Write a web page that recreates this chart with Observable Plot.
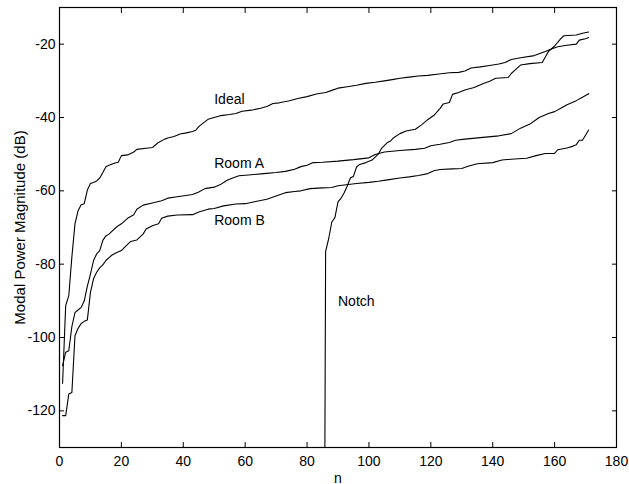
<!DOCTYPE html>
<html>
<head>
<meta charset="utf-8">
<script src="https://cdn.jsdelivr.net/npm/d3@7"></script>
<script src="https://cdn.jsdelivr.net/npm/@observablehq/plot@0.6"></script>
<style>
  html, body { margin: 0; padding: 0; background: #fff; }
  #chart svg { font-family: "Liberation Sans", Arial, Helvetica, sans-serif; }
</style>
</head>
<body>
<div id="chart"></div>
<script>
// ---- Data ----
const idealN  = [1,2,3,4,5,6,7,8,9,10,11,12,13,14,15,16,17,18,19,20,22,24,25,28,30,31,32,34,35,37,39,41,43,44,45,46,48,50,52,55,57,59,62,65,67,69,71,74,77,80,83,86,88,90,93,96,99,102,105,108,110,113,116,119,122,126,129,131,133,136,139,142,144,146,149,153,155,157,159,161,164,167,168,170,171];
const idealDb = [-112.5,-91.3,-88.6,-78,-69,-65.4,-63.8,-63.5,-59.8,-58,-57.7,-57.3,-56.5,-55,-53.4,-53,-52.7,-52.4,-52.2,-50.4,-50.2,-49.4,-48.7,-48.4,-48.2,-47.5,-46.8,-45.9,-45.6,-45.2,-44.5,-44.2,-43.8,-43.5,-42.5,-41.8,-40.5,-40,-39.5,-39.2,-38.9,-38.3,-38,-37.5,-37,-36.2,-36,-35.5,-34.8,-34.3,-33.6,-33.2,-32.6,-32,-31.6,-31.2,-30.7,-30.4,-30,-29.6,-29.3,-29,-28.7,-28.5,-28.2,-27.8,-27.7,-27.3,-26.5,-26.2,-25.8,-25.4,-25,-24.2,-23.7,-23.2,-22.6,-22,-21.3,-20.7,-20.3,-20,-18.9,-18.5,-18.2];

const roomAN  = [1,2,3,4,5,6,7,8,9,10,11,12,13,14,15,16,17,18,19,20,22,24,25,27,30,33,35,38,43,45,47,50,52,54,56,58,62,66,70,73,76,78,80,82,85,90,95,100,102,105,110,115,118,120,123,126,128,131,136,142,146,149,152,154,155,158,160,162,164,167,169,171];
const roomADb = [-107.7,-104,-103.6,-97,-93.2,-92.5,-91.8,-90,-86,-82.7,-79,-77.2,-76.3,-73.5,-72.3,-71.8,-71,-70.2,-69.5,-69,-67.5,-66.5,-65,-63.9,-63.3,-62.7,-62,-61.6,-61,-60.3,-59.4,-59,-58.3,-57.2,-56.5,-55.9,-55.6,-55.3,-55,-54.7,-54.1,-53.4,-53,-52.3,-52.2,-51.9,-51.5,-51,-50.1,-49.4,-49,-48.7,-48.4,-47.7,-47.3,-46.8,-46.2,-45.9,-45.5,-45,-44.4,-42.9,-41.8,-40.6,-40,-38.9,-38.4,-37.5,-36.5,-35.4,-34.5,-33.5];

const roomBN  = [1,2,3,4,5,6,7,8,9,10,11,12,13,14,15,16,17,18,20,21,23,25,27,28,30,32,33,35,38,43,45,48,50,53,57,60,63,67,70,73,76,78,81,85,88,90,92,96,100,103,106,110,113,116,119,121,123,127,130,132,135,140,143,147,151,154,157,160,161,164,166,167,168,169,171];
const roomBDb = [-121.3,-121.3,-115.4,-115,-99.5,-97.5,-96.2,-95.6,-95.2,-87.7,-84,-82.2,-81,-80.2,-79,-78.2,-77.5,-77,-76.3,-75.4,-73.8,-73.4,-71.8,-70.4,-69.5,-69,-67.5,-66.9,-66.6,-66.5,-65.8,-65,-64.8,-64.1,-63.6,-63.5,-63,-62.3,-61.4,-60.5,-60.2,-60,-59.4,-59.2,-59.1,-58.6,-58.4,-58,-57.7,-57.4,-57,-56.5,-56.2,-55.8,-55.3,-54.5,-54.2,-54,-53.9,-53.3,-52.6,-52.3,-51.6,-51.3,-51.1,-50.4,-49.8,-49.8,-48.8,-48.3,-47.8,-47.4,-46.2,-46.2,-43.4];

const notchN  = [85,86,87,88,89,90,91,92,93,94,95,96,97,99,101,103,104,106,107,108,110,112,115,117,119,121,123,124,126,127,129,131,134,137,139,141,145,146,147,149,152,156,157,158,160,162,163,167,169,171];
const notchDb = [-300,-76.5,-73,-68.5,-67.3,-63,-62,-60.5,-58.7,-56.5,-56,-53.5,-52.8,-52.3,-51.6,-50,-48.5,-46.8,-46.4,-45.5,-44.4,-43.7,-43.2,-42,-40.6,-39.4,-37.5,-36.3,-35.9,-33.7,-33.2,-32.5,-31.8,-30.7,-30.1,-29.3,-29.1,-28,-27.2,-25.7,-25.3,-25,-23.5,-22,-20.5,-18.5,-17.7,-17.5,-17,-16.7];

const seriesNames = ["Ideal", "Room A", "Room B", "Notch"];
const labelN  = [50, 50, 50, 90];
const labelDb = [-35.2, -52.5, -68.2, -90.2];

const xTicks = [0, 20, 40, 60, 80, 100, 120, 140, 160, 180];
const yTicks = [-120, -100, -80, -60, -40, -20];
const xTitle = "n";
const yTitle = "Modal Power Magnitude (dB)";

// ---- Build tables ----
const toRows = (name, ns, dbs) => ns.map((n, i) => ({series: name, n, db: dbs[i]}));
const rows = [
  ...toRows("Ideal", idealN, idealDb),
  ...toRows("Room A", roomAN, roomADb),
  ...toRows("Room B", roomBN, roomBDb),
  ...toRows("Notch", notchN, notchDb)
];
const labels = seriesNames.map((s, i) => ({text: s, n: labelN[i], db: labelDb[i]}));
const fmt = d => String(d); // plain hyphen-minus like the reference

const chart = Plot.plot({
  width: 629,
  height: 484,
  marginLeft: 59,
  marginRight: 13,
  marginTop: 7,
  marginBottom: 37,
  style: {fontSize: "14px", fontFamily: "'Liberation Sans', Arial, Helvetica, sans-serif", background: "#fff", color: "#000"},
  x: {domain: [0, 180], axis: null},
  y: {domain: [-130, -10], axis: null},
  marks: [
    Plot.line(rows, {x: "n", y: "db", z: "series", stroke: "#000", strokeWidth: 1.1, clip: true}),
    Plot.text(labels, {x: "n", y: "db", text: "text", textAnchor: "start", fill: "#000", fontSize: 14}),
    // bottom axis: tick labels + title
    Plot.axisX(xTicks, {anchor: "bottom", tickSize: 0, tickPadding: 9, fontSize: 14, tickFormat: fmt, label: xTitle, labelAnchor: "center", labelArrow: "none", labelOffset: 35}),
    // inward ticks on all four sides
    Plot.axisX(xTicks, {anchor: "bottom", tickSize: 5, dy: -5, fill: "none", label: null, stroke: "#000"}),
    Plot.axisX(xTicks, {anchor: "top", tickSize: 5, dy: 5, fill: "none", label: null, stroke: "#000"}),
    Plot.axisY(yTicks, {anchor: "left", tickSize: 0, tickPadding: 4, fontSize: 14, tickFormat: fmt, label: null}),
    Plot.axisY(yTicks, {anchor: "left", tickSize: 5, dx: 5, fill: "none", label: null, stroke: "#000"}),
    Plot.axisY(yTicks, {anchor: "right", tickSize: 5, dx: -5, fill: "none", label: null, stroke: "#000"}),
    // y-axis title
    Plot.text([yTitle], {frameAnchor: "left", rotate: -90, dx: -39, textAnchor: "middle", lineAnchor: "middle", fontSize: 15, fill: "#000"}),
    Plot.frame({stroke: "#000", strokeWidth: 1.2})
  ]
});
document.getElementById("chart").appendChild(chart);
</script>
</body>
</html>
